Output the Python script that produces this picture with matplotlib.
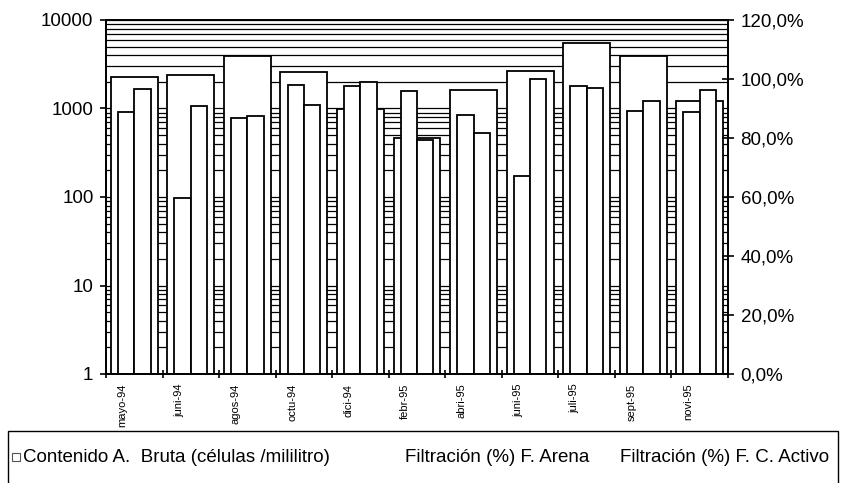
import numpy as np
import matplotlib.pyplot as plt
from matplotlib.patches import Rectangle
from matplotlib.ticker import FixedLocator, LogLocator

plt.rcParams['font.family'] = ['Liberation Sans', 'DejaVu Sans']

# --- datos ---
meses = ['mayo-94', 'juni-94', 'agos-94', 'octu-94', 'dici-94', 'febr-95',
         'abri-95', 'juni-95', 'juli-95', 'sept-95', 'novi-95']
bruta = [2250, 2370, 3900, 2600, 980, 460, 1630, 2650, 5500, 3950, 1220]   # celulas/ml
arena = [88.7, 59.8, 86.7, 98.0, 97.7, 95.9, 87.8, 67.0, 97.6, 89.3, 88.8]  # %
activo = [96.6, 91.0, 87.4, 91.2, 98.9, 79.3, 81.7, 100.0, 97.0, 92.5, 96.4]  # %

W, H = 842, 483
fig = plt.figure(figsize=(W / 100, H / 100), dpi=100)
ax = fig.add_axes([106 / W, 1 - 374 / H, (728 - 106) / W, (374 - 20) / H])

x = np.arange(len(meses))

# --- Contenido A. Bruta (eje log izquierdo) ---
ax.bar(x, bruta, width=0.83, color='white', edgecolor='black', linewidth=1.3, log=True)
ax.set_ylim(1, 10000)
ax.set_xlim(-0.5, len(meses) - 0.5)
ax.yaxis.set_major_locator(FixedLocator([1, 10, 100, 1000, 10000]))
ax.set_yticklabels(['1', '10', '100', '1000', '10000'])
ax.yaxis.set_minor_locator(LogLocator(base=10, subs=range(2, 10)))
ax.grid(True, which='both', axis='y', color='black', linewidth=0.9)
ax.set_axisbelow(True)
ax.tick_params(axis='y', which='minor', length=0, labelleft=False)
ax.tick_params(axis='y', which='major', direction='out', length=4, width=1.2,
               labelsize=13.5, pad=5)

ax.set_xticks(np.arange(len(meses) + 1) - 0.5)
ax.set_xticklabels([])
ax.tick_params(axis='x', which='major', direction='inout', length=6, width=1.2)
ax.set_xticks(x - 0.21, meses, minor=True, rotation=90, fontsize=8)
ax.tick_params(axis='x', which='minor', length=0, pad=7)

for s in ax.spines.values():
    s.set_linewidth(1.3)

# --- Filtracion (%) eje derecho ---
ax2 = ax.twinx()
ax2.bar(x - 0.145, arena, width=0.29, color='white', edgecolor='black', linewidth=1.3)
ax2.bar(x + 0.145, activo, width=0.29, color='white', edgecolor='black', linewidth=1.3)
ax2.set_ylim(0, 120)
pct = list(range(0, 121, 20))
ax2.set_yticks(pct, [f'{p},0%' for p in pct])
ax2.tick_params(axis='y', direction='inout', length=8, width=1.2, labelsize=13.5, pad=5)
for s in ax2.spines.values():
    s.set_linewidth(1.3)

# --- leyenda ---
fig.add_artist(Rectangle((8 / W, -0.05), (838 - 8) / W, (1 - 431 / H) + 0.05,
                         transform=fig.transFigure, fill=False, ec='black', lw=1.0))
fig.add_artist(Rectangle((12 / W, 1 - 461 / H), 8 / W, 8 / H,
                         transform=fig.transFigure, fill=False, ec='#555555', lw=0.8))
ly = 1 - 457 / H
fig.text(23 / W, ly, 'Contenido A.  Bruta (células /mililitro)', va='center', fontsize=13.5)
fig.text(405 / W, ly, 'Filtración (%) F. Arena', va='center', fontsize=13.5)
fig.text(620 / W, ly, 'Filtración (%) F. C. Activo', va='center', fontsize=13.5)

fig.savefig('out.png', dpi=100)
